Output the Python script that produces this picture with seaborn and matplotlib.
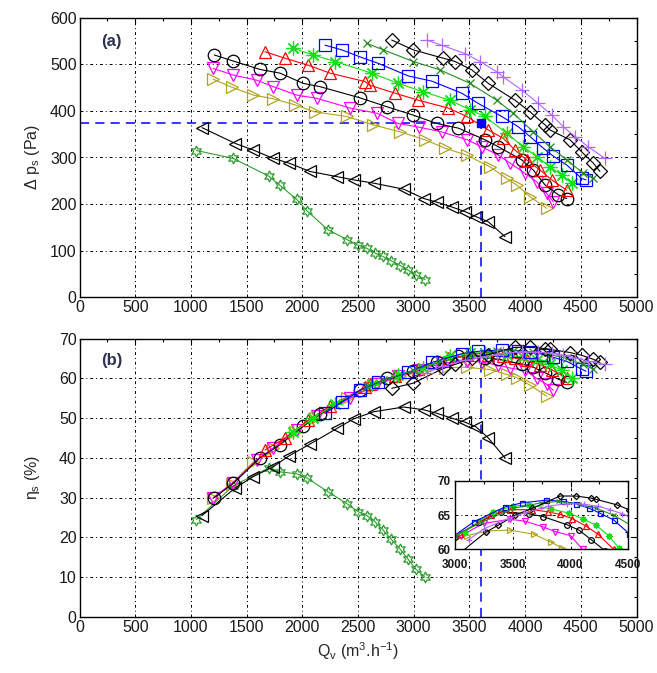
import numpy as np
import pandas as pd
import matplotlib
matplotlib.use("Agg")
import matplotlib.pyplot as plt
import seaborn as sns
from matplotlib.ticker import MultipleLocator

sns.set_theme(style="white")
plt.rcParams['font.family'] = ['Liberation Sans', 'DejaVu Sans']
plt.rcParams['mathtext.fontset'] = 'custom'
plt.rcParams['mathtext.rm'] = 'Liberation Sans'
plt.rcParams['mathtext.it'] = 'Liberation Sans'

# ---------------- data ----------------
q_hex = [1050, 1380, 1700, 1800, 1950, 2040, 2230, 2400, 2500, 2580, 2650, 2720, 2800, 2880, 2950, 3020, 3100]
dp_hex = [315, 298, 260, 240, 210, 186, 145, 124, 112, 105, 95, 88, 78, 68, 58, 48, 38]
eta_hex = [24.5, 33.0, 37.5, 36.5, 36.0, 35.0, 31.5, 28.5, 26.5, 25.5, 24.0, 22.0, 19.5, 17.0, 14.5, 12.0, 10.0]

q_lt = [1100, 1400, 1560, 1740, 1880, 2070, 2310, 2460, 2640, 2910, 3090, 3210, 3340, 3460, 3560, 3670, 3820]
dp_lt = [364, 330, 316, 298, 288, 270, 259, 252, 245, 232, 212, 204, 194, 184, 173, 162, 130]
eta_lt = [25.5, 32.5, 35.3, 37.8, 40.5, 43.5, 47.4, 49.8, 51.6, 52.8, 52.1, 51.2, 50.0, 49.0, 47.8, 45.0, 40.0]

q_rt = [1200, 1366, 1560, 1740, 1934, 2114, 2398, 2637, 2877, 3101, 3281, 3476, 3685, 3835, 3925, 4044, 4194]
dp_rt = [468, 451, 434, 426, 413, 398, 388, 370, 355, 338, 320, 305, 280, 255, 241, 216, 191]
eta_rt = [30.0, 33.5, 39.0, 42.5, 46.5, 50.0, 55.0, 58.0, 60.5, 62.0, 62.7, 62.8, 62.2, 61.0, 60.2, 58.3, 55.5]

q_dn = [1200, 1380, 1590, 1740, 1950, 2130, 2430, 2670, 2860, 3050, 3250, 3480, 3610, 3760, 3865, 4000, 4104, 4194, 4253]
dp_dn = [491, 477, 466, 452, 434, 427, 406, 395, 373, 365, 355, 338, 323, 305, 288, 266, 248, 223, 205]
eta_dn = [30.0, 33.8, 39.5, 42.5, 47.0, 50.5, 55.0, 58.5, 60.5, 62.0, 63.8, 64.4, 64.1, 63.3, 62.6, 62.0, 60.0, 58.5, 57.0]

q_ci = [1210, 1380, 1620, 1800, 2009, 2159, 2518, 2758, 2996, 3206, 3401, 3640, 3760, 3969, 4074, 4179, 4298, 4373]
dp_ci = [520, 507, 489, 481, 459, 452, 428, 409, 391, 373, 363, 338, 323, 295, 273, 241, 220, 212]
eta_ci = [30.0, 33.6, 40.0, 43.3, 48.0, 51.0, 57.0, 60.0, 61.8, 64.0, 65.5, 65.2, 64.8, 63.6, 62.8, 61.4, 59.8, 59.0]

q_up = [1665, 1845, 2054, 2249, 2563, 2608, 2832, 3041, 3311, 3476, 3670, 3804, 3909, 4014, 4134, 4239, 4373]
dp_up = [527, 513, 498, 481, 463, 455, 438, 423, 406, 388, 359, 341, 316, 295, 273, 252, 230]
eta_up = [42.0, 45.0, 49.5, 53.0, 57.8, 58.5, 60.5, 62.3, 65.0, 65.8, 65.8, 65.5, 65.1, 64.5, 63.4, 62.2, 60.0]

q_ast = [1919, 2099, 2294, 2623, 2862, 3086, 3326, 3506, 3640, 3835, 3984, 4104, 4224, 4329, 4418]
dp_ast = [534, 520, 506, 481, 459, 441, 423, 402, 388, 352, 323, 302, 280, 262, 245]
eta_ast = [46.5, 50.0, 53.5, 58.5, 60.8, 62.6, 65.5, 66.3, 66.5, 65.9, 65.3, 64.5, 63.5, 62.0, 60.2]

q_sq = [2204, 2354, 2518, 2682, 2952, 3161, 3431, 3580, 3790, 3939, 4044, 4163, 4253, 4373, 4508, 4547]
dp_sq = [541, 531, 516, 502, 475, 464, 438, 416, 388, 366, 345, 320, 303, 284, 255, 252]
eta_sq = [51.2, 54.0, 57.0, 59.0, 61.5, 64.0, 66.2, 66.8, 67.2, 67.0, 66.7, 66.0, 65.3, 64.3, 62.3, 61.8]

q_x = [2578, 2727, 2996, 3236, 3506, 3745, 3894, 4074, 4224, 4373, 4523, 4612]
dp_x = [545, 531, 506, 488, 459, 423, 395, 355, 323, 295, 266, 255]
eta_x = [58.0, 59.5, 62.0, 64.0, 66.0, 66.8, 67.0, 66.6, 66.0, 65.0, 63.5, 62.3]

q_dia = [2803, 2996, 3266, 3371, 3521, 3670, 3909, 4044, 4179, 4224, 4403, 4508, 4612, 4672]
dp_dia = [552, 531, 513, 506, 488, 459, 423, 398, 370, 359, 338, 312, 288, 270]
eta_dia = [57.5, 58.8, 62.5, 63.5, 65.0, 66.0, 67.8, 67.8, 67.5, 67.3, 66.5, 65.8, 64.8, 64.0]

q_pl = [3117, 3251, 3461, 3596, 3745, 3804, 3969, 4119, 4239, 4343, 4448, 4567, 4717]
dp_pl = [552, 541, 523, 506, 484, 473, 445, 416, 391, 366, 345, 323, 298]
eta_pl = [61.4, 63.0, 64.5, 65.3, 66.0, 66.3, 66.7, 66.6, 66.3, 65.8, 65.2, 64.3, 63.5]

op_q = [3600]
op_dp = [375]

series = [
    (q_hex, dp_hex, eta_hex, '#2f9e2f', (6, 1, 0), 8),
    (q_lt, dp_lt, eta_lt, 'black', '<', 9),
    (q_rt, dp_rt, eta_rt, '#b0a41e', '>', 9),
    (q_dn, dp_dn, eta_dn, '#ff00ff', 'v', 9),
    (q_ci, dp_ci, eta_ci, 'black', 'o', 9),
    (q_up, dp_up, eta_up, '#ff0000', '^', 9),
    (q_ast, dp_ast, eta_ast, '#11e011', (8, 2, 0), 10),
    (q_sq, dp_sq, eta_sq, '#0000ff', 's', 8),
    (q_x, dp_x, eta_x, '#228b22', 'x', 6),
    (q_dia, dp_dia, eta_dia, 'black', 'D', 7),
    (q_pl, dp_pl, eta_pl, '#b266ff', '+', 10),
]

W, H = 657, 673
fig = plt.figure(figsize=(W / 100, H / 100), dpi=100)
ax1 = fig.add_axes([79.5 / W, 1 - 297.3 / H, 557 / W, 279.6 / H])
ax2 = fig.add_axes([79.5 / W, 1 - 617 / H, 557 / W, 278.4 / H])
axi = fig.add_axes([455 / W, 1 - 549.3 / H, 173.3 / W, 68.3 / H])

grid_ls = (0, (3, 3, 1, 3))


def draw(ax, ycol, ms_scale=1.0, lw=0.8):
    for q, dp, eta, c, m, ms in series:
        df = pd.DataFrame({'Q': q, 'y': dp if ycol == 'dp' else eta})
        sns.lineplot(data=df, x='Q', y='y', ax=ax, sort=False, estimator=None,
                     color=c, marker=m, markersize=ms * ms_scale,
                     markerfacecolor='none', markeredgecolor=c,
                     markeredgewidth=0.9, linewidth=lw, legend=False)


def style(ax, xlim, ylim, xmaj, xmin, ymaj, ymin, fs=11.5, bold=False, pad=2):
    ax.set_xlim(*xlim)
    ax.set_ylim(*ylim)
    ax.xaxis.set_major_locator(MultipleLocator(xmaj))
    ax.xaxis.set_minor_locator(MultipleLocator(xmin))
    ax.yaxis.set_major_locator(MultipleLocator(ymaj))
    ax.yaxis.set_minor_locator(MultipleLocator(ymin))
    ax.grid(True, which='major', color='black', linestyle=grid_ls, linewidth=0.7)
    ax.tick_params(which='both', direction='in', top=True, right=True,
                   colors='black', labelcolor='#1a1a1a', width=0.8,
                   labelsize=fs, pad=pad)
    ax.tick_params(which='major', length=4)
    ax.tick_params(which='minor', length=2.5)
    for s in ax.spines.values():
        s.set_color('black')
        s.set_linewidth(1.0)
    ax.set_xlabel('')
    ax.set_ylabel('')
    if bold:
        for lab in ax.get_xticklabels() + ax.get_yticklabels():
            lab.set_fontweight('bold')
    ax.set_axisbelow(True)


# top panel
draw(ax1, 'dp')
ax1.plot([0, op_q[0]], [op_dp[0], op_dp[0]], color='#0000ff', linestyle=(0, (6, 4)), linewidth=1.1, zorder=1)
ax1.plot([op_q[0], op_q[0]], [0, op_dp[0]], color='#0000ff', linestyle=(0, (6, 4)), linewidth=1.1, zorder=1)
ax1.plot(op_q, op_dp, marker='s', color='#0000ff', markersize=6, linestyle='none', zorder=5)
style(ax1, (0, 5000), (0, 600), 500, 250, 100, 50)
ax1.text(190, 548, '(a)', fontsize=12, fontweight='bold', color='#2a3350', va='center')
ax1.set_ylabel(r'$\Delta$ p$_\mathregular{s}$ (Pa)', fontsize=11.5, labelpad=6)

# bottom panel
draw(ax2, 'eta')
ax2.plot([3600, 3600], [0, 70], color='#0000ff', linestyle=(0, (6, 4)), linewidth=1.1, zorder=1)
style(ax2, (0, 5000), (0, 70), 500, 250, 10, 5)
ax2.text(190, 64.5, '(b)', fontsize=12, fontweight='bold', color='#2a3350', va='center')
ax2.set_ylabel(r'$\eta_\mathregular{s}$ (%)', fontsize=11.5, labelpad=12)
ax2.set_xlabel(r'Q$_\mathregular{v}$ (m$^\mathregular{3}$.h$^\mathregular{-1}$)', fontsize=11.5, labelpad=4)

# inset
axi.set_facecolor('white')
draw(axi, 'eta', ms_scale=0.45, lw=0.8)
style(axi, (3000, 4500), (60, 70), 500, 250, 5, 2.5, fs=8.5, bold=True, pad=2)
axi.tick_params(axis='x', pad=7)
axi.tick_params(axis='y', pad=3)
axi.set_zorder(10)

fig.savefig('out.png', dpi=100)
